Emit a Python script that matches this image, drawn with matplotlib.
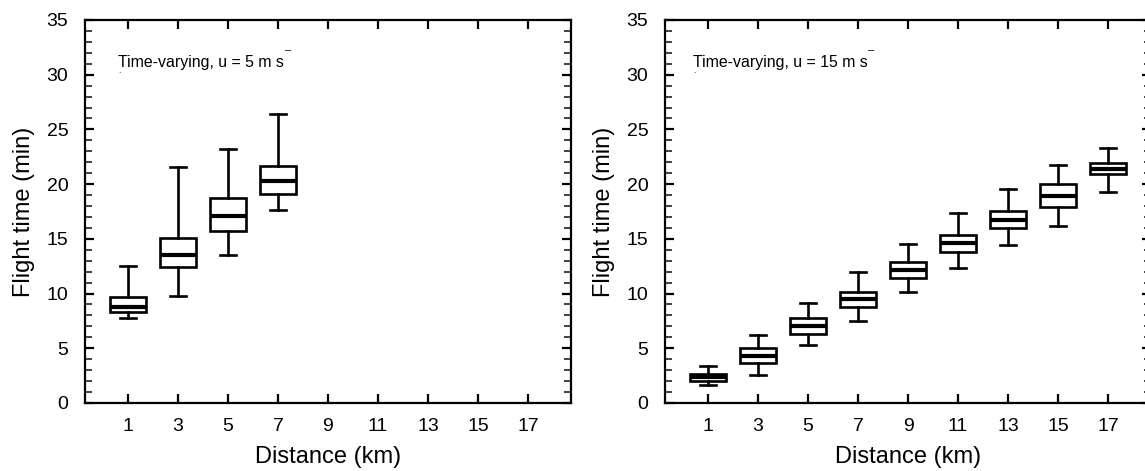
import matplotlib as mpl
mpl.use('Agg')
import matplotlib.pyplot as plt
import numpy as np
from matplotlib.ticker import MultipleLocator

plt.rcParams['font.family'] = ['Liberation Sans', 'DejaVu Sans']

## 距離 (km)
dist_5 = [1, 3, 5, 7]
dist_15 = [1, 3, 5, 7, 9, 11, 13, 15, 17]
xticks = [1, 3, 5, 7, 9, 11, 13, 15, 17]

## u = 5 m/s : whisker low, Q1, median, Q3, whisker high (min)
lo_5 = [7.8, 9.8, 13.5, 17.6]
q1_5 = [8.35, 12.4, 15.75, 19.1]
med_5 = [8.75, 13.5, 17.1, 20.3]
q3_5 = [9.7, 15.05, 18.7, 21.7]
hi_5 = [12.55, 21.55, 23.2, 26.45]

## u = 15 m/s
lo_15 = [1.6, 2.55, 5.3, 7.5, 10.15, 12.3, 14.45, 16.2, 19.3]
q1_15 = [2.05, 3.65, 6.3, 8.75, 11.45, 13.8, 15.95, 17.9, 20.9]
med_15 = [2.35, 4.3, 7.05, 9.5, 12.15, 14.6, 16.7, 18.95, 21.4]
q3_15 = [2.65, 5.0, 7.75, 10.15, 12.85, 15.35, 17.5, 20.0, 21.9]
hi_15 = [3.4, 6.2, 9.15, 11.95, 14.55, 17.35, 19.55, 21.75, 23.3]

labels = ['Time-varying, u = 5 m s', 'Time-varying, u = 15 m s']


def make_stats(lo, q1, med, q3, hi):
    return [dict(whislo=a, q1=b, med=c, q3=d, whishi=e, fliers=[])
            for a, b, c, d, e in zip(lo, q1, med, q3, hi)]


fig = plt.figure(figsize=(11.45, 4.71), dpi=100)
ax1 = fig.add_axes([0.0742, 0.1444, 0.4245, 0.8132])
ax2 = fig.add_axes([0.5808, 0.1444, 0.4245, 0.8132])

panels = [
    (ax1, dist_5, make_stats(lo_5, q1_5, med_5, q3_5, hi_5), labels[0], 0.6),
    (ax2, dist_15, make_stats(lo_15, q1_15, med_15, q3_15, hi_15), labels[1], 0.4),
]

for ax, pos, stats, lab, tx in panels:
    ax.bxp(stats, positions=pos, widths=1.44, capwidths=0.64, showfliers=False,
           patch_artist=True,
           boxprops=dict(facecolor='white', edgecolor='black', linewidth=1.9),
           medianprops=dict(color='black', linewidth=3.0),
           whiskerprops=dict(color='black', linewidth=1.9),
           capprops=dict(color='black', linewidth=1.9))

    ax.set_xlim(-0.72, 18.72)
    ax.set_ylim(0, 35)
    ax.set_xticks(xticks)
    ax.set_xticklabels([str(v) for v in xticks])
    ax.yaxis.set_major_locator(MultipleLocator(5))
    ax.yaxis.set_minor_locator(MultipleLocator(1))
    ax.tick_params(axis='both', which='major', direction='in', length=6.5, width=1.6,
                   top=True, right=True, labelsize=14, color='black')
    ax.tick_params(axis='y', which='major', pad=12)
    ax.tick_params(axis='x', which='major', pad=11)
    ax.tick_params(axis='y', which='minor', direction='in', length=5, width=1.3,
                   left=True, right=True, color='#333333')
    ax.tick_params(axis='x', which='minor', bottom=False, top=False)
    for sp in ax.spines.values():
        sp.set_linewidth(1.6)

    ax.set_xlabel('Distance (km)', fontsize=17, labelpad=8)
    ax.set_ylabel('Flight time (min)', fontsize=17, labelpad=8)

    # 注記 (上付きの -1 は切れて「-」のみ)
    t = ax.text(tx, 30.7, lab, fontsize=11.4, ha='left', va='baseline')
    ax.annotate('\u2013', xy=(1, 1), xycoords=t, xytext=(0.5, 0),
                textcoords='offset points', fontsize=8, ha='left', va='bottom')
    ax.annotate('.', xy=(0, 0), xycoords=t, xytext=(0, -1),
                textcoords='offset points', fontsize=6, ha='left', va='center')

plt.savefig('out.png', dpi=100)
plt.close(fig)
